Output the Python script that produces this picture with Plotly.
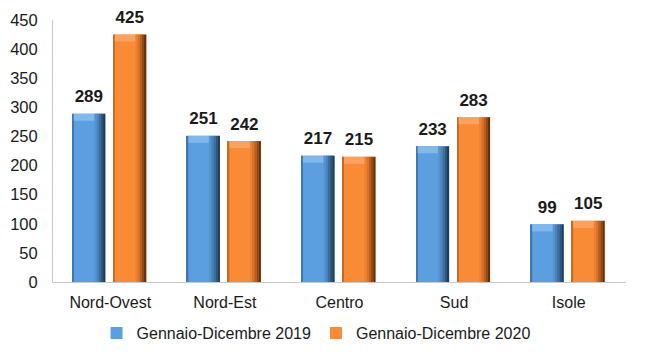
import plotly.graph_objects as go

categories = ["Nord-Ovest", "Nord-Est", "Centro", "Sud", "Isole"]
series_2019 = [289, 251, 217, 233, 99]
series_2020 = [425, 242, 215, 283, 105]
name_2019 = "Gennaio-Dicembre 2019"
name_2020 = "Gennaio-Dicembre 2020"
y_ticks = [0, 50, 100, 150, 200, 250, 300, 350, 400, 450]

font = "Liberation Sans, Arial, sans-serif"
CAT_PX = 114.7          # pixel width of one category slot
BAR_PX = 33.0           # bar width in pixels
UNITS_PER_PX = 450 / 262.0
CAP_PX = 7.0            # height of the light bevel at the top of a bar
LABEL_GAP_PX = 4.5      # extra space between bar top and its value label

fig = go.Figure()


def add_series(values, name, left_px, main, left_edge, shades, cap, label_font):
    # main body of the bar (legend entry)
    fig.add_trace(go.Bar(
        x=categories, y=values, name=name,
        offset=left_px / CAT_PX, width=BAR_PX / CAT_PX,
        marker=dict(color=main, line=dict(width=0)),
        showlegend=True, hoverinfo="skip",
    ))
    # thin darker left edge
    fig.add_trace(go.Bar(
        x=categories, y=values, offset=left_px / CAT_PX, width=1.5 / CAT_PX,
        marker=dict(color=left_edge, line=dict(width=0)),
        showlegend=False, hoverinfo="skip",
    ))
    # light bevel at the top
    cap_h = CAP_PX * UNITS_PER_PX
    fig.add_trace(go.Bar(
        x=categories, y=[cap_h] * len(values), base=[v - cap_h for v in values],
        offset=(left_px + 1.5) / CAT_PX, width=(BAR_PX - 4.5) / CAT_PX,
        marker=dict(color=cap, line=dict(width=0)),
        showlegend=False, hoverinfo="skip",
    ))
    # shading strips on the right side for the cylinder look
    start = 22.0
    step = (BAR_PX - start) / len(shades)
    for i, c in enumerate(shades):
        fig.add_trace(go.Bar(
            x=categories, y=values,
            offset=(left_px + start + i * step) / CAT_PX, width=step / CAT_PX,
            marker=dict(color=c, line=dict(width=0)),
            showlegend=False, hoverinfo="skip",
        ))
    # transparent spacer sitting on the bar top that carries the value labels
    gap = LABEL_GAP_PX * UNITS_PER_PX
    fig.add_trace(go.Bar(
        x=categories, y=[gap] * len(values), base=values,
        offset=left_px / CAT_PX, width=BAR_PX / CAT_PX,
        marker=dict(color="rgba(0,0,0,0)", line=dict(width=0)),
        text=values, textposition="outside", textfont=label_font,
        cliponaxis=False, showlegend=False, hoverinfo="skip",
    ))


label_font = dict(family=font, size=17, color="#1a1a1a", weight="bold")

add_series(series_2019, name_2019, -38.0, "#5C9FE0", "#3F77AE",
           ["#5694D0", "#4A82B9", "#3C6C9C", "#2E5479", "#1F3A55"], "#80B8EC",
           label_font)
add_series(series_2020, name_2020, 3.0, "#F98B36", "#C96A22",
           ["#EE8231", "#D8732A", "#B85F20", "#8F4816", "#60300E"], "#FCA261",
           label_font)

fig.update_layout(
    width=645, height=360,
    margin=dict(l=53, r=19, t=20, b=78, autoexpand=False),
    paper_bgcolor="white", plot_bgcolor="white",
    barmode="overlay",
    font=dict(family=font, size=16, color="#1a1a1a"),
    showlegend=True,
    legend=dict(orientation="h", xref="container", yref="container",
                x=0.49, xanchor="center", y=0.075, yanchor="middle",
                font=dict(size=16), traceorder="normal"),
    xaxis=dict(showline=True, linecolor="#c8c8c8", linewidth=1, ticks="",
               tickfont=dict(size=16), showgrid=False, automargin=False,
               ticklabelstandoff=6),
    yaxis=dict(range=[0, 450], tickvals=y_ticks, showline=True, linecolor="#c8c8c8",
               linewidth=1, showgrid=False, ticks="outside", ticklen=11,
               tickcolor="rgba(0,0,0,0)", tickfont=dict(size=16.5),
               zeroline=False, automargin=False),
)

fig.write_html("out.html", config={"displayModeBar": False},
               post_script="document.body.style.margin='0';document.body.style.padding='0';")
